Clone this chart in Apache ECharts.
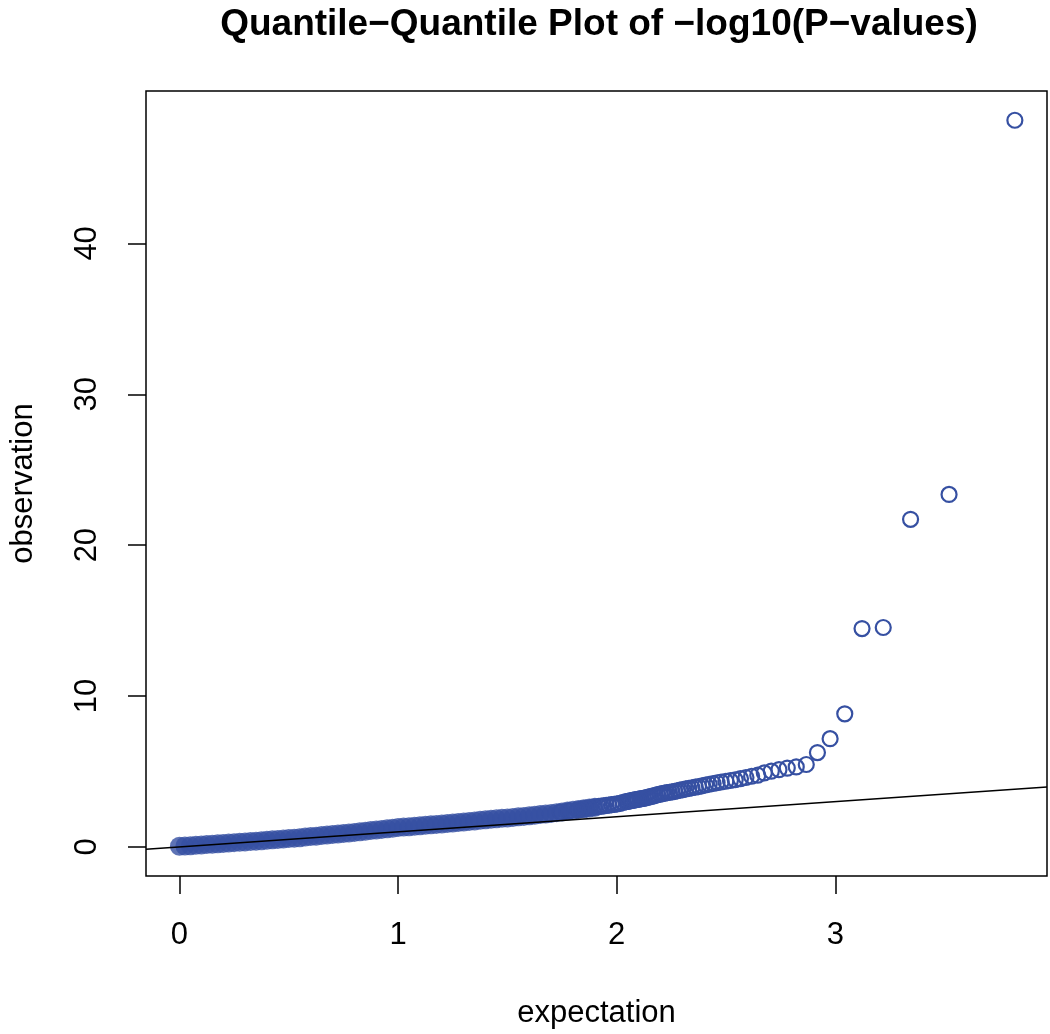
<!DOCTYPE html>
<html>
<head>
<meta charset="utf-8">
<script src="https://cdn.jsdelivr.net/npm/echarts@6/dist/echarts.min.js"></script>
<style>html,body{margin:0;padding:0;background:#fff}#c{width:1050px;height:1034px}</style>
</head>
<body>
<div id="c"></div>
<script>
// Tail points (distinct hollow circles): expected, observed
var tailExpected = [3.821,3.520,3.344,3.219,3.122,3.043,2.976,2.918,2.867,2.821,2.780,2.742,2.707,2.675,2.645,2.617,2.591,2.566,2.542,2.520,2.499,2.478,2.459,2.441,2.423,2.406,2.390,2.374,2.359,2.344,2.330,2.316,2.302,2.289,2.277,2.265,2.253,2.241,2.230,2.219,2.208,2.198,2.187,2.177,2.168,2.158,2.149,2.140,2.131,2.122,2.113,2.105,2.097,2.089,2.081,2.073,2.065,2.058,2.050,2.043,2.029,2.015,2.001,1.988,1.976,1.964,1.952,1.940,1.929,1.918,1.897,1.876,1.857,1.839,1.821,1.780,1.742];
var tailObserved = [48.16,23.36,21.71,14.54,14.47,8.82,7.17,6.25,5.46,5.30,5.22,5.12,5.02,4.90,4.75,4.68,4.60,4.52,4.45,4.40,4.35,4.30,4.25,4.20,4.15,4.10,4.05,4.00,3.96,3.92,3.88,3.84,3.80,3.76,3.72,3.68,3.65,3.62,3.59,3.56,3.53,3.50,3.46,3.42,3.38,3.35,3.31,3.28,3.25,3.22,3.20,3.18,3.15,3.13,3.11,3.08,3.06,3.04,3.02,3.00,2.95,2.88,2.85,2.82,2.80,2.77,2.75,2.72,2.70,2.68,2.63,2.58,2.55,2.50,2.46,2.38,2.30];
// Dense band (points overlap into a solid band)
var bandExpected = [0.000,0.025,0.050,0.075,0.100,0.125,0.150,0.175,0.200,0.225,0.250,0.275,0.300,0.325,0.350,0.375,0.400,0.425,0.450,0.475,0.500,0.525,0.550,0.575,0.600,0.625,0.650,0.675,0.700,0.725,0.750,0.775,0.800,0.825,0.850,0.875,0.900,0.925,0.950,0.975,1.000,1.025,1.050,1.075,1.100,1.125,1.150,1.175,1.200,1.225,1.250,1.275,1.300,1.325,1.350,1.375,1.400,1.425,1.450,1.475,1.500,1.525,1.550,1.575,1.600,1.625,1.650,1.675,1.700,1.725,1.750,1.775,1.800,1.825,1.850,1.875,1.900];
var bandObserved = [0.04,0.06,0.08,0.10,0.13,0.15,0.18,0.20,0.23,0.25,0.28,0.30,0.33,0.36,0.38,0.41,0.44,0.47,0.49,0.52,0.55,0.58,0.61,0.65,0.68,0.71,0.75,0.78,0.82,0.85,0.89,0.92,0.96,1.00,1.04,1.08,1.12,1.16,1.20,1.24,1.28,1.31,1.34,1.37,1.40,1.43,1.46,1.49,1.52,1.55,1.58,1.62,1.65,1.69,1.72,1.76,1.80,1.83,1.86,1.89,1.92,1.95,1.99,2.02,2.06,2.10,2.14,2.18,2.22,2.27,2.32,2.37,2.42,2.47,2.52,2.57,2.62];
var xTicks = [0,1,2,3];
var yTicks = [0,10,20,30,40];
var xRange = [-0.153, 3.968];
var yRange = [-1.93, 50.1];

var tailData = tailExpected.map(function(x,i){return [x, tailObserved[i]];});
var bandData = bandExpected.map(function(x,i){return [x, bandObserved[i]];});
var refLine = [[xRange[0], xRange[0]], [xRange[1], xRange[1]]];

var FONT = '"Liberation Sans", Arial, Helvetica, sans-serif';
var COL = '#3650a2';
var chart = echarts.init(document.getElementById('c'), null, {renderer:'canvas'});
chart.setOption({
  animation: false,
  backgroundColor: '#fff',
  title: {
    text: 'Quantile\u2212Quantile Plot of \u2212log10(P\u2212values)',
    left: 594, top: 1, textAlign: 'center',
    textStyle: {fontFamily: FONT, fontWeight: 'bold', fontSize: 37, color: '#000'}
  },
  grid: {left: 145, top: 91, right: 3, bottom: 152, show: true, borderColor: '#000', borderWidth: 1.5, backgroundColor: 'transparent'},
  xAxis: {
    type: 'value', min: xRange[0], max: xRange[1],
    name: 'expectation', nameLocation: 'middle', nameGap: 122,
    nameTextStyle: {fontFamily: FONT, fontSize: 31, color: '#000'},
    axisLine: {show: false, onZero: false},
    splitLine: {show: false},
    axisTick: {show: true, length: 18, customValues: xTicks, lineStyle: {color: '#000', width: 1.5}},
    axisLabel: {customValues: xTicks, margin: 44, fontFamily: FONT, fontSize: 31, color: '#000'}
  },
  yAxis: {
    type: 'value', min: yRange[0], max: yRange[1],
    name: 'observation', nameLocation: 'middle', nameGap: 107,
    nameTextStyle: {fontFamily: FONT, fontSize: 31, color: '#000'},
    axisLine: {show: false, onZero: false},
    splitLine: {show: false},
    axisTick: {show: true, length: 18, customValues: yTicks, lineStyle: {color: '#000', width: 1.5}},
    axisLabel: {customValues: yTicks, rotate: 90, margin: 43, fontFamily: FONT, fontSize: 31, color: '#000'}
  },
  series: [
    {type: 'scatter', data: bandData, symbol: 'circle', symbolSize: 19, itemStyle: {color: COL}, silent: true, z: 2},
    {type: 'scatter', data: tailData, symbol: 'circle', symbolSize: 15, itemStyle: {color: 'rgba(0,0,0,0)', borderColor: COL, borderWidth: 2.2, opacity: 1}, silent: true, z: 3},
    {type: 'line', data: refLine, symbol: 'none', lineStyle: {color: '#000', width: 1.5}, silent: true, z: 4, clip: true}
  ]
});
</script>
</body>
</html>
